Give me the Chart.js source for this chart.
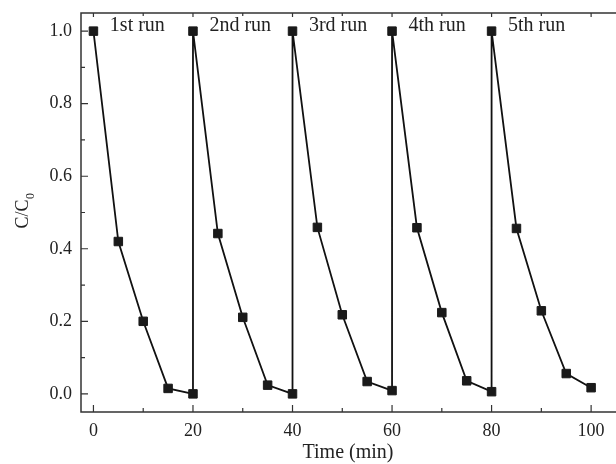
<!DOCTYPE html>
<html>
<head>
<meta charset="utf-8">
<script src="https://cdn.jsdelivr.net/npm/chart.js@4"></script>
<style>
  html, body { margin: 0; padding: 0; background: #fff; overflow: hidden; }
  canvas { display: block; }
</style>
</head>
<body>
<canvas id="cycleChart" width="616" height="464"></canvas>
<script>
// reusability test: 5 runs, C/C0 vs time
const runLabels  = ['1st run', '2nd run', '3rd run', '4th run', '5th run'];
const runStarts  = [0, 20, 40, 60, 80];          // min
const runOffsets = [0, 5, 10, 15, 20];           // sampling times within a run (min)
const run1 = [1.0, 0.420, 0.200, 0.015, 0.000];
const run2 = [1.0, 0.442, 0.211, 0.024, 0.000];
const run3 = [1.0, 0.459, 0.218, 0.034, 0.009];
const run4 = [1.0, 0.458, 0.224, 0.036, 0.006];
const run5 = [1.0, 0.456, 0.229, 0.056, 0.017];
const xTicks = [0, 20, 40, 60, 80, 100];
const yTicks = [0.0, 0.2, 0.4, 0.6, 0.8, 1.0];

const runs = [run1, run2, run3, run4, run5];
const SERIF = '"Liberation Serif", "Times New Roman", serif';

// one continuous line, runs joined by the vertical jump back to 1.0
const points = [];
runs.forEach((vals, i) => {
    vals.forEach((v, j) => points.push({ x: runStarts[i] + runOffsets[j], y: v }));
});

// frame, inward ticks, run labels and axis titles
const decorPlugin = {
    id: 'decor',
    afterDraw(chart) {
        const { ctx, chartArea: a, scales: { x, y } } = chart;
        ctx.save();
        ctx.strokeStyle = '#333';
        ctx.lineWidth = 1.5;
        ctx.beginPath();
        ctx.moveTo(a.right, a.top);
        ctx.lineTo(a.left, a.top);
        ctx.lineTo(a.left, a.bottom);
        ctx.lineTo(a.right, a.bottom);
        ctx.stroke();

        ctx.lineWidth = 1.2;
        ctx.beginPath();
        for (let v = 0; v <= 100; v += 10) {
            const px = x.getPixelForValue(v);
            const major = v % 20 === 0;
            ctx.moveTo(px, a.bottom); ctx.lineTo(px, a.bottom - (major ? 7 : 4));
            ctx.moveTo(px, a.top);    ctx.lineTo(px, a.top + (major ? 4 : 3));
        }
        for (let k = 0; k <= 10; k++) {
            const py = y.getPixelForValue(k / 10);
            ctx.moveTo(a.left, py); ctx.lineTo(a.left + (k % 2 === 0 ? 7 : 4), py);
        }
        ctx.stroke();

        ctx.fillStyle = '#222';
        ctx.font = '20px ' + SERIF;
        ctx.textAlign = 'left';
        ctx.textBaseline = 'alphabetic';
        runLabels.forEach((lbl, i) => {
            ctx.fillText(lbl, x.getPixelForValue(runStarts[i] + 3.3), y.getPixelForValue(1.0));
        });

        ctx.textAlign = 'center';
        ctx.fillText('Time (min)', 348, 458);

        ctx.translate(28, 211);
        ctx.rotate(-Math.PI / 2);
        ctx.font = '18px ' + SERIF;
        const main = 'C/C';
        const w = ctx.measureText(main).width;
        ctx.font = '12px ' + SERIF;
        const ws = ctx.measureText('0').width;
        const start = -(w + ws) / 2;
        ctx.textAlign = 'left';
        ctx.font = '18px ' + SERIF;
        ctx.fillText(main, start, 0);
        ctx.font = '12px ' + SERIF;
        ctx.fillText('0', start + w + 0.5, 6);
        ctx.restore();
    }
};

new Chart(document.getElementById('cycleChart'), {
    type: 'scatter',
    data: {
        datasets: [{
            data: points,
            showLine: true,
            borderColor: '#111',
            borderWidth: 1.8,
            pointStyle: 'rect',
            pointRadius: 6,
            pointBackgroundColor: '#1a1a1a',
            pointBorderColor: '#1a1a1a',
            pointBorderWidth: 1,
            tension: 0,
        }]
    },
    options: {
        responsive: false,
        animation: false,
        events: [],
        layout: { autoPadding: false, padding: { top: 13, right: 0, left: 0, bottom: 0 } },
        plugins: {
            legend: { display: false },
            tooltip: { enabled: false },
        },
        scales: {
            x: {
                type: 'linear',
                min: -2.5,
                max: 105,
                afterFit: s => { s.height = 52; s.paddingLeft = 0; s.paddingRight = 0; },
                afterBuildTicks: s => { s.ticks = xTicks.map(v => ({ value: v })); },
                grid: { display: false, drawTicks: false },
                border: { display: false },
                ticks: {
                    padding: 8,
                    color: '#222',
                    font: { family: SERIF, size: 18 },
                    callback: v => String(v),
                },
            },
            y: {
                type: 'linear',
                min: -0.05,
                max: 1.05,
                afterFit: s => { s.width = 81; s.paddingTop = 0; s.paddingBottom = 0; },
                afterBuildTicks: s => { s.ticks = yTicks.map(v => ({ value: v })); },
                grid: { display: false, drawTicks: false },
                border: { display: false },
                ticks: {
                    padding: 9,
                    color: '#222',
                    font: { family: SERIF, size: 18 },
                    callback: v => Number(v).toFixed(1),
                },
            },
        },
    },
    plugins: [decorPlugin],
});
</script>
</body>
</html>
